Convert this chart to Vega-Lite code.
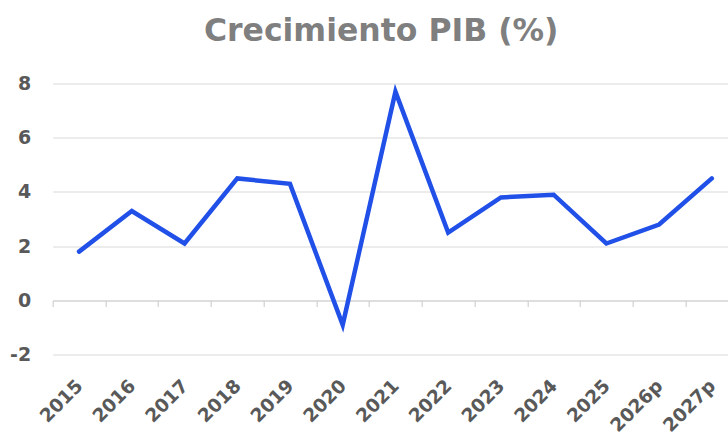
{
  "$schema": "https://vega.github.io/schema/vega-lite/v6.json",
  "autosize": "none",
  "width": 675,
  "height": 271.2,
  "padding": {"left": 52.7, "top": 83.5, "right": 0, "bottom": 82.3},
  "background": "white",
  "title": {
    "text": "Crecimiento PIB (%)",
    "font": "DejaVu Sans",
    "fontSize": 31.5,
    "fontWeight": "bold",
    "color": "#7f7f7f",
    "anchor": "middle",
    "baseline": "alphabetic",
    "offset": 2,
    "dx": -9
  },
  "config": {"view": {"stroke": null}},
  "data": {
    "values": [
      {"year": "2015", "pib": 1.8},
      {"year": "2016", "pib": 3.3},
      {"year": "2017", "pib": 2.1},
      {"year": "2018", "pib": 4.5},
      {"year": "2019", "pib": 4.3},
      {"year": "2020", "pib": -0.9},
      {"year": "2021", "pib": 7.7},
      {"year": "2022", "pib": 2.5},
      {"year": "2023", "pib": 3.8},
      {"year": "2024", "pib": 3.9},
      {"year": "2025", "pib": 2.1},
      {"year": "2026p", "pib": 2.8},
      {"year": "2027p", "pib": 4.5}
    ]
  },
  "mark": {"type": "line", "color": "#2150E8", "strokeWidth": 4.5, "strokeCap": "round", "strokeJoin": "miter"},
  "encoding": {
    "x": {
      "field": "year",
      "type": "ordinal",
      "sort": null,
      "scale": {"type": "band", "range": [0, 685.5], "paddingInner": 0, "paddingOuter": 0},
      "axis": {
        "title": null,
        "offset": -54.2,
        "domain": true,
        "domainColor": "#d0d0d0",
        "domainWidth": 1.2,
        "ticks": true,
        "tickBand": "extent",
        "tickColor": "#d0d0d0",
        "tickSize": 6,
        "tickWidth": 1.2,
        "grid": false,
        "labelAngle": -45,
        "labelAlign": "right",
        "labelBaseline": "middle",
        "labelPadding": 76,
        "labelFont": "DejaVu Sans",
        "labelFontSize": 18.5,
        "labelFontWeight": "bold",
        "labelColor": "#595959"
      }
    },
    "y": {
      "field": "pib",
      "type": "quantitative",
      "scale": {"domain": [-2, 8], "nice": false, "zero": false},
      "axis": {
        "title": null,
        "values": [-2, 0, 2, 4, 6, 8],
        "labelExpr": "datum.value < 0 ? '-' + abs(datum.value) : '' + datum.value",
        "domain": false,
        "ticks": false,
        "grid": true,
        "gridColor": "#d9d9d9",
        "gridWidth": 1,
        "labelPadding": 22,
        "labelFont": "DejaVu Sans",
        "labelFontSize": 19,
        "labelFontWeight": "bold",
        "labelColor": "#595959"
      }
    }
  }
}
